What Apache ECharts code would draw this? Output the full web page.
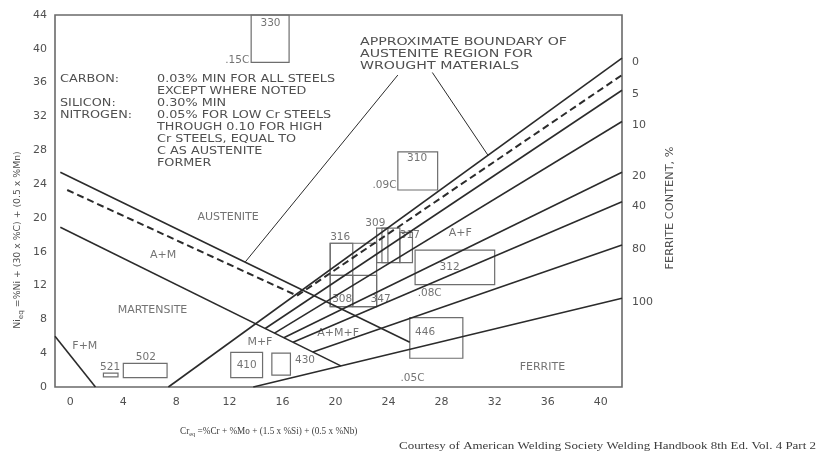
<!DOCTYPE html>
<html>
<head>
<meta charset="utf-8">
<script src="https://cdn.jsdelivr.net/npm/echarts@6/dist/echarts.min.js"></script>
<style>
  html, body { margin: 0; padding: 0; background: #fff; }
  #chart { width: 818px; height: 454px; }
</style>
</head>
<body>
<div id="chart"></div>
<script>
// Schaeffler constitution diagram for stainless steel weld metal (Cr_eq vs Ni_eq)

const xTicks = [0, 4, 8, 12, 16, 20, 24, 28, 32, 36, 40];

// Phase boundaries, points as [Cr_eq, Ni_eq]
const austeniteLine = [[-0.75, 25.4], [25.6, 5.3]];
const martensiteLine = [[-0.75, 18.9], [20.4, 2.5]];
const ferriteMartensiteLine = [[-1.15, 6.0], [1.9, 0]];
const wroughtBoundary = [[-0.23, 23.3], [17.1, 10.8], [41.6, 36.9]];

// Ferrite iso-content lines
const ferritePct = [0, 5, 10, 20, 40, 80, 100];
const ferriteStart = [[7.4, 0], [14.7, 6.92], [15.4, 6.38], [16.1, 5.83], [16.8, 5.29], [18.3, 4.13], [13.8, 0]];
const ferriteEnd = [[41.6, 38.9], [41.6, 35.1], [41.6, 31.4], [41.6, 25.4], [41.6, 21.9], [41.6, 16.8], [41.6, 10.5]];

// Leader lines from the wrought-material note
const leaderLeft = [[24.7, 36.9], [13.2, 14.8]];
const leaderRight = [[27.3, 37.2], [31.5, 27.4]];

// Composition ranges of steel grades: [Cr min, Cr max, Ni min, Ni max]
const gradeBoxes = [
  [13.64, 16.5, 38.4, 44.0],   // 330
  [24.7, 27.7, 23.3, 27.8],    // 310
  [19.6, 23.1, 9.5, 17.0],     // 316
  [19.6, 21.3, 13.2, 17.0],
  [19.6, 21.3, 9.5, 13.2],     // 308
  [21.3, 23.1, 9.5, 13.2],     // 347
  [23.1, 23.95, 14.7, 18.8],   // 309
  [23.5, 24.85, 14.7, 18.8],
  [24.85, 25.8, 14.7, 18.3],   // 317
  [26.0, 32.0, 12.1, 16.2],    // 312
  [25.6, 29.6, 3.4, 8.2],      // 446
  [12.1, 14.5, 1.1, 4.1],      // 410
  [15.2, 16.6, 1.4, 4.0],      // 430
  [4.0, 7.3, 1.1, 2.8],        // 502
  [2.5, 3.6, 1.2, 1.65]        // 521
];

// Grade and carbon labels: [Cr_eq, Ni_eq, text, align]
const gradeLabels = [
  [15.1, 43.0, '330', 'center'],
  [13.5, 38.7, '.15C', 'right'],
  [26.15, 27.1, '310', 'center'],
  [24.6, 23.9, '.09C', 'right'],
  [20.35, 17.75, '316', 'center'],
  [23.0, 19.4, '309', 'center'],
  [25.6, 18.0, '317', 'center'],
  [20.5, 10.4, '308', 'center'],
  [23.4, 10.4, '347', 'center'],
  [28.6, 14.2, '312', 'center'],
  [27.1, 11.1, '.08C', 'center'],
  [26.75, 6.5, '446', 'center'],
  [13.3, 2.6, '410', 'center'],
  [17.7, 3.2, '430', 'center'],
  [5.7, 3.55, '502', 'center'],
  [3.0, 2.35, '521', 'center'],
  [25.8, 1.07, '.05C', 'center']
];

// Phase region names: [Cr_eq, Ni_eq, text]
const regionLabels = [
  [11.9, 20.1, 'AUSTENITE'],
  [7.0, 15.6, 'A+M'],
  [6.2, 9.1, 'MARTENSITE'],
  [1.1, 4.85, 'F+M'],
  [14.3, 5.3, 'M+F'],
  [20.2, 6.4, 'A+M+F'],
  [29.4, 18.2, 'A+F'],
  [35.6, 2.4, 'FERRITE']
];

const noteKeys = ['CARBON:', '', 'SILICON:', 'NITROGEN:'];
const noteValues = [
  '0.03% MIN FOR ALL STEELS', 'EXCEPT WHERE NOTED', '0.30% MIN',
  '0.05% FOR LOW Cr STEELS', 'THROUGH 0.10 FOR HIGH', 'Cr STEELS, EQUAL TO',
  'C AS AUSTENITE', 'FORMER'
];
const boundaryNote = ['APPROXIMATE BOUNDARY OF', 'AUSTENITE REGION FOR', 'WROUGHT MATERIALS'];

const SANS = '"DejaVu Sans", sans-serif';
const SERIF = '"Liberation Serif", "DejaVu Serif", serif';
const INK = '#2b2b2b';
const TEXT = '#505050';

// Horizontal stretch factor so a line of text spans a given width
const measureCtx = document.createElement('canvas').getContext('2d');
function stretch(text, font, width) {
  measureCtx.font = font;
  return width / measureCtx.measureText(text).width;
}

function lineSeries(points, extra) {
  return Object.assign({
    type: 'line',
    data: points,
    symbol: 'none',
    silent: true,
    animation: false,
    lineStyle: { color: INK, width: 1.6 }
  }, extra || {});
}

const series = [];
series.push(lineSeries(austeniteLine));
series.push(lineSeries(martensiteLine));
series.push(lineSeries(ferriteMartensiteLine));
series.push(lineSeries(wroughtBoundary, { lineStyle: { color: INK, width: 2, type: [7, 4] } }));
series.push(lineSeries(leaderLeft, { lineStyle: { color: INK, width: 1 } }));
series.push(lineSeries(leaderRight, { lineStyle: { color: INK, width: 1 } }));

ferritePct.forEach((pct, i) => {
  series.push(lineSeries([ferriteStart[i], ferriteEnd[i]], {
    endLabel: {
      show: true, distance: 10, offset: [0, 4],
      formatter: String(pct), color: TEXT, fontFamily: SANS, fontSize: 11
    }
  }));
});

series.push({
  type: 'custom',
  silent: true,
  animation: false,
  clip: false,
  data: gradeBoxes,
  encode: { x: [0, 1], y: [2, 3] },
  renderItem: function (params, api) {
    const a = api.coord([api.value(0), api.value(2)]);
    const b = api.coord([api.value(1), api.value(3)]);
    return {
      type: 'rect',
      shape: {
        x: Math.min(a[0], b[0]), y: Math.min(a[1], b[1]),
        width: Math.abs(b[0] - a[0]), height: Math.abs(b[1] - a[1])
      },
      style: { fill: 'none', stroke: '#6e6e6e', lineWidth: 1.2 }
    };
  }
});

series.push({
  type: 'scatter',
  silent: true,
  animation: false,
  symbolSize: 0,
  data: gradeLabels.map(d => ({
    value: [d[0], d[1]], name: d[2],
    label: { align: d[3] }
  })),
  label: {
    show: true, position: 'inside', formatter: '{b}',
    color: TEXT, fontFamily: SANS, fontSize: 10.5
  }
});

series.push({
  type: 'scatter',
  silent: true,
  animation: false,
  symbolSize: 0,
  data: regionLabels.map(d => ({ value: [d[0], d[1]], name: d[2] })),
  label: {
    show: true, position: 'inside', formatter: '{b}',
    color: TEXT, fontFamily: SANS, fontSize: 11
  }
});

// Free text: notes, axis titles and credit line
const graphics = [];
const noteFont = '10px ' + SANS;
const noteScale = stretch(noteValues[0], noteFont, 178);
noteKeys.forEach((t, i) => {
  if (!t) return;
  graphics.push({
    type: 'text', x: 60, y: 79 + 12 * i, scaleX: noteScale, silent: true,
    style: { text: t, font: noteFont, fill: TEXT, textVerticalAlign: 'middle' }
  });
});
noteValues.forEach((t, i) => {
  graphics.push({
    type: 'text', x: 157, y: 79 + 12 * i, scaleX: noteScale, silent: true,
    style: { text: t, font: noteFont, fill: TEXT, textVerticalAlign: 'middle' }
  });
});
const bnScale = stretch(boundaryNote[0], noteFont, 207);
boundaryNote.forEach((t, i) => {
  graphics.push({
    type: 'text', x: 360, y: 42 + 12 * i, scaleX: bnScale, silent: true,
    style: { text: t, font: noteFont, fill: TEXT, textVerticalAlign: 'middle' }
  });
});

const ferriteTitle = 'FERRITE CONTENT, %';
const ftFont = '10px ' + SANS;
graphics.push({
  type: 'text', x: 670, y: 208, rotation: Math.PI / 2, silent: true,
  scaleX: stretch(ferriteTitle, ftFont, 123),
  style: { text: ferriteTitle, font: ftFont, fill: TEXT, textAlign: 'center', textVerticalAlign: 'middle' }
});

const niFont = '9px ' + SANS;
graphics.push({
  type: 'text', x: 18, y: 240, rotation: Math.PI / 2, silent: true,
  scaleX: stretch('Nieq =%Ni + (30 x %C) + (0.5 x %Mn)', niFont, 180),
  style: {
    text: 'Ni{s|eq} =%Ni + (30 x %C) + (0.5 x %Mn)', font: niFont, fill: TEXT,
    textAlign: 'center', textVerticalAlign: 'middle',
    rich: { s: { fontSize: 7, padding: [6, 0, 0, 0], fill: TEXT, fontFamily: SANS } }
  }
});

const crFont = '10px ' + SERIF;
graphics.push({
  type: 'text', x: 180, y: 431, silent: true,
  scaleX: stretch('Creq =%Cr + %Mo + (1.5 x %Si) + (0.5 x %Nb)', crFont, 180),
  style: {
    text: 'Cr{s|eq} =%Cr + %Mo + (1.5 x %Si) + (0.5 x %Nb)', font: crFont, fill: '#3c3c3c',
    textVerticalAlign: 'middle',
    rich: { s: { fontSize: 7, padding: [6, 0, 0, 0], fill: '#3c3c3c', fontFamily: SERIF } }
  }
});

const credit = 'Courtesy of American Welding Society Welding Handbook 8th Ed. Vol. 4 Part 2';
const creditFont = '10px ' + SERIF;
graphics.push({
  type: 'text', x: 399, y: 446, silent: true,
  scaleX: stretch(credit, creditFont, 417),
  style: { text: credit, font: creditFont, fill: '#3c3c3c', textVerticalAlign: 'middle' }
});

const chart = echarts.init(document.getElementById('chart'), null, { renderer: 'canvas' });
chart.setOption({
  animation: false,
  backgroundColor: '#fff',
  grid: {
    left: 55, right: 196, top: 15, bottom: 67,
    show: true, borderColor: '#6a6a6a', borderWidth: 1.6, backgroundColor: 'transparent'
  },
  xAxis: {
    type: 'value', min: -1.15, max: 41.6,
    axisLine: { show: false }, axisTick: { show: false }, splitLine: { show: false },
    axisLabel: {
      customValues: xTicks, margin: 10,
      color: TEXT, fontFamily: SANS, fontSize: 11
    }
  },
  yAxis: {
    type: 'value', min: 0, max: 44, interval: 4,
    axisLine: { show: false }, axisTick: { show: false }, splitLine: { show: false },
    axisLabel: { margin: 8, color: TEXT, fontFamily: SANS, fontSize: 11 }
  },
  series: series,
  graphic: graphics
});
</script>
</body>
</html>
